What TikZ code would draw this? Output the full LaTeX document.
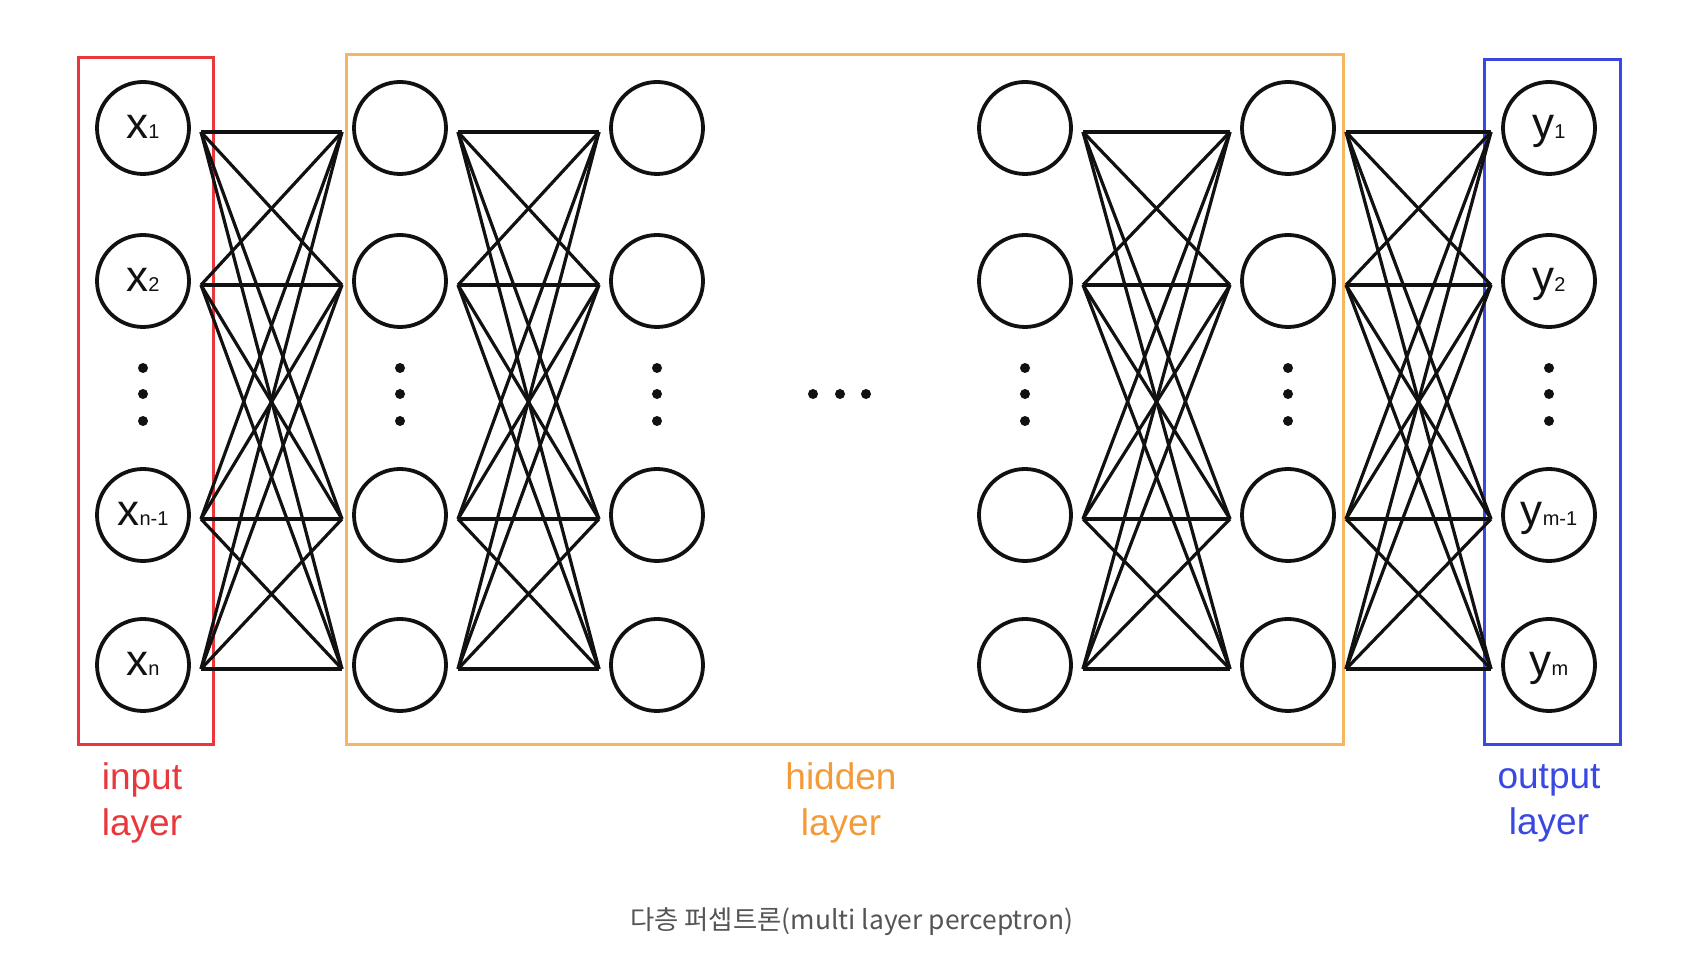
\documentclass[tikz,border=0pt]{standalone}
\usepackage{fontspec}
\setmainfont{Liberation Sans}
\newfontfamily\cjkfont{Noto Sans CJK KR}
\usetikzlibrary{calc}
\definecolor{inputred}{HTML}{E8383C}
\definecolor{hiddenorange}{HTML}{F6B563}
\definecolor{hiddentext}{HTML}{F29B38}
\definecolor{outputblue}{HTML}{3A48E2}
\definecolor{captiongray}{HTML}{555555}
\definecolor{ink}{HTML}{111111}

\newcommand{\neuronlabel}[2]{{\fontsize{22}{22}\selectfont #1}{\fontsize{10}{10}\selectfont #2}}

\begin{document}
\begin{tikzpicture}[
  x=0.5pt,y=0.5pt,
  neuron/.style={circle, draw=ink, line width=1.9pt, minimum size=46pt,
    inner sep=0pt, outer sep=0pt, text=ink, text height=11pt, text depth=0pt},
  layerbox/.style={line width=1.5pt},
  link/.style={draw=ink, line width=1.6pt},
  layerlabel/.style={font=\fontsize{18.5}{23}\selectfont, align=center},
  dot/.style={circle, fill=ink, inner sep=0pt, minimum size=5pt}
]
\useasboundingbox (0,0) rectangle (1708,974);

% Layer frames
\draw[layerbox, draw=inputred] (78,229) rectangle (213,916);
\draw[layerbox, draw=hiddenorange] (346.5,229) rectangle (1343,919);
\draw[layerbox, draw=outputblue] (1484,229) rectangle (1620,914);

% Input layer
\node[neuron] (in1) at (143,846) {\neuronlabel{x}{1}};
\node[neuron] (in2) at (143,693) {\neuronlabel{x}{2}};
\node[neuron] (in3) at (143,459) {\neuronlabel{x}{n-1}};
\node[neuron] (in4) at (143,309) {\neuronlabel{x}{n}};

% Hidden layers
\node[neuron] (ha1) at (400,846) {};
\node[neuron] (ha2) at (400,693) {};
\node[neuron] (ha3) at (400,459) {};
\node[neuron] (ha4) at (400,309) {};

\node[neuron] (hb1) at (657,846) {};
\node[neuron] (hb2) at (657,693) {};
\node[neuron] (hb3) at (657,459) {};
\node[neuron] (hb4) at (657,309) {};

\node[neuron] (hc1) at (1025,846) {};
\node[neuron] (hc2) at (1025,693) {};
\node[neuron] (hc3) at (1025,459) {};
\node[neuron] (hc4) at (1025,309) {};

\node[neuron] (hd1) at (1288,846) {};
\node[neuron] (hd2) at (1288,693) {};
\node[neuron] (hd3) at (1288,459) {};
\node[neuron] (hd4) at (1288,309) {};

% Output layer
\node[neuron] (out1) at (1549,846) {\neuronlabel{y}{1}};
\node[neuron] (out2) at (1549,693) {\neuronlabel{y}{2}};
\node[neuron] (out3) at (1549,459) {\neuronlabel{y}{m-1}};
\node[neuron] (out4) at (1549,309) {\neuronlabel{y}{m}};

% Full connections between neighbouring layers
\foreach \a/\b in {in/ha, ha/hb, hc/hd, hd/out}
  \foreach \i in {1,...,4}
    \foreach \j in {1,...,4}
      \draw[link] ($(\a\i.east)+(12,-4)$) -- ($(\b\j.west)+(-12,-4)$);

% Ellipsis dots
\foreach \c in {143,400,657,1025,1288,1549}
  \foreach \y in {606,580,553}
    \node[dot] at (\c,\y) {};
\foreach \c in {813,840,866}
  \node[dot] at (\c,580) {};

% Labels
\node[layerlabel, text=inputred] (inlabel) at (142,171) {input\\layer};
\node[layerlabel, text=hiddentext] (hiddenlabel) at (841,171) {hidden\\layer};
\node[layerlabel, text=outputblue] (outlabel) at (1549,171) {output\\layer};

\node[font=\cjkfont\fontsize{13.2}{16}\selectfont, text=captiongray] (caption) at (852,52)
  {다층 퍼셉트론(multi layer perceptron)};

\end{tikzpicture}
\end{document}
